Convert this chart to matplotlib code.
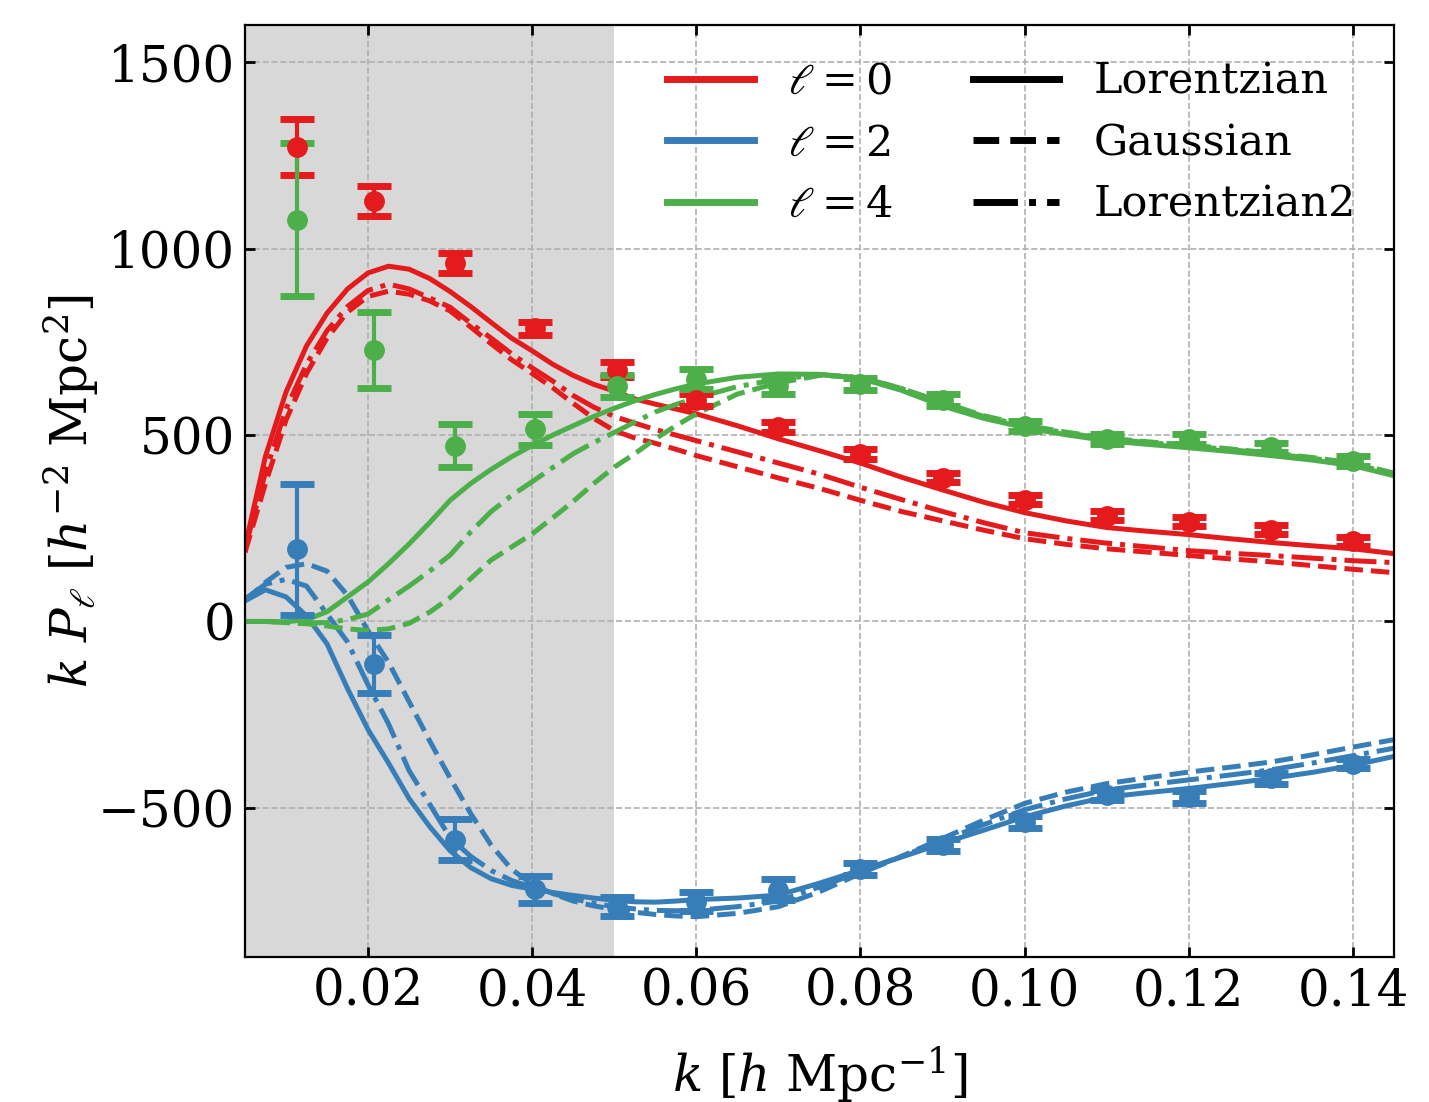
import matplotlib
matplotlib.use("Agg")
import matplotlib.pyplot as plt
from matplotlib.lines import Line2D

plt.rcParams["font.family"] = ["DejaVu Serif"]
plt.rcParams["mathtext.fontset"] = "dejavuserif"
plt.rcParams["font.size"] = 18

RED = "#e41a1c"
BLUE = "#377eb8"
GREEN = "#4daf4a"

# measured multipoles (effective k of each bin)
k_data = [0.0113, 0.0207, 0.0306, 0.0404, 0.0503, 0.060, 0.070, 0.080,
          0.090, 0.100, 0.110, 0.120, 0.130, 0.140]
p0_data = [1272, 1127, 962, 786, 675, 594, 521, 449, 385, 326, 284, 268, 246, 215]
p0_err = [75, 40, 26, 18, 20, 15, 14, 13, 12, 12, 12, 12, 12, 12]
p2_data = [194, -115, -586, -718, -765, -752, -720, -664, -600, -537, -466, -471, -421, -381]
p2_err = [176, 78, 55, 36, 25, 26, 28, 16, 16, 16, 14, 16, 14, 12]
p4_data = [1078, 727, 472, 515, 632, 650, 632, 637, 594, 524, 489, 490, 467, 430]
p4_err = [205, 102, 57, 42, 30, 26, 22, 16, 15, 14, 13, 13, 13, 13]

# model curves
k_model = [0.005, 0.0075, 0.01, 0.0125, 0.015, 0.0175, 0.02, 0.0225, 0.025, 0.0275,
           0.03, 0.0325, 0.035, 0.0375, 0.04, 0.0425, 0.045, 0.0475, 0.05, 0.0525,
           0.055, 0.0575, 0.06, 0.065, 0.07, 0.075, 0.08, 0.085, 0.09, 0.095,
           0.10, 0.105, 0.11, 0.115, 0.12, 0.125, 0.13, 0.135, 0.14, 0.145]

p0_lor = [200, 443, 615, 739, 827, 892, 935, 953, 945, 920,
          885, 845, 802, 760, 726, 690, 660, 636, 618, 597,
          583, 570, 557, 525, 490, 458, 425, 387, 353, 320,
          292, 270, 252, 242, 233, 222, 212, 203, 195, 182]
p0_gau = [185, 370, 540, 665, 760, 830, 872, 886, 878, 860,
          833, 790, 745, 702, 665, 627, 585, 545, 512, 492,
          478, 462, 445, 415, 385, 357, 325, 295, 270, 245,
          222, 207, 195, 186, 177, 168, 160, 150, 140, 131]
p0_lor2 = [195, 400, 570, 690, 780, 845, 888, 905, 892, 868,
           843, 800, 760, 718, 680, 645, 606, 575, 550, 532,
           515, 500, 485, 455, 425, 395, 360, 327, 295, 265,
           238, 223, 210, 200, 190, 183, 177, 170, 163, 158]

p2_lor = [55, 85, 66, 15, -60, -180, -290, -380, -475, -550,
          -615, -660, -690, -708, -718, -727, -735, -742, -748, -752,
          -753, -750, -746, -742, -734, -702, -667, -632, -595, -560,
          -524, -495, -471, -459, -448, -435, -421, -405, -386, -362]
p2_gau = [55, 105, 145, 155, 135, 70, -25, -110, -215, -320,
          -420, -515, -600, -665, -705, -730, -750, -763, -772, -780,
          -786, -790, -792, -783, -765, -725, -676, -630, -582, -533,
          -488, -458, -435, -419, -404, -391, -377, -358, -337, -317]
p2_lor2 = [60, 100, 113, 95, 20, -55, -170, -275, -400, -490,
           -580, -630, -668, -695, -713, -730, -744, -756, -765, -771,
           -775, -776, -775, -765, -750, -712, -672, -630, -588, -545,
           -505, -476, -452, -438, -425, -412, -398, -380, -360, -340]

p4_lor = [0, 0, -1, 5, 26, 66, 106, 155, 208, 265,
          325, 370, 408, 442, 472, 500, 525, 550, 572, 592,
          609, 624, 637, 655, 664, 663, 652, 620, 578, 545,
          520, 501, 485, 475, 466, 456, 445, 433, 418, 391]
p4_gau = [0, 0, -3, -6, -12, -20, -24, -20, -5, 25,
          64, 115, 165, 200, 235, 278, 322, 370, 414, 450,
          490, 525, 557, 610, 640, 660, 655, 625, 588, 552,
          527, 508, 492, 482, 473, 463, 452, 440, 425, 398]
p4_lor2 = [0, 0, -2, -4, -3, 5, 20, 58, 95, 135,
           178, 240, 295, 338, 375, 413, 450, 480, 507, 535,
           562, 582, 600, 630, 650, 662, 655, 625, 586, 550,
           525, 506, 490, 480, 471, 461, 450, 438, 423, 396]

fig = plt.figure(figsize=(7.145, 5.51), dpi=200)
ax = fig.add_axes([0.1714, 0.1316, 0.8041, 0.8457])

ax.axvspan(0.005, 0.05, color="gray", alpha=0.3, lw=0)

curves = [
    (p0_lor, p0_gau, p0_lor2, RED),
    (p2_lor, p2_gau, p2_lor2, BLUE),
    (p4_lor, p4_gau, p4_lor2, GREEN),
]
for lor, gau, lor2, col in curves:
    ax.plot(k_model, lor, color=col, lw=1.8, ls="-")
    ax.plot(k_model, gau, color=col, lw=1.8, ls="--")
    ax.plot(k_model, lor2, color=col, lw=1.8, ls="-.")

for y, err, col in [(p0_data, p0_err, RED), (p2_data, p2_err, BLUE), (p4_data, p4_err, GREEN)]:
    ax.errorbar(k_data, y, yerr=err, fmt="o", color=col, ms=6.5,
                elinewidth=1.5, capsize=6, capthick=2.5)

ax.set_xlim(0.005, 0.145)
ax.set_ylim(-900, 1600)
ax.set_xticks([0.02, 0.04, 0.06, 0.08, 0.10, 0.12, 0.14])
ax.set_xticklabels(["0.02", "0.04", "0.06", "0.08", "0.10", "0.12", "0.14"])
ax.set_yticks([-500, 0, 500, 1000, 1500])
ax.tick_params(direction="in", top=True, right=True, width=1.0)
ax.grid(True, ls="--", color="#b0b0b0", lw=0.6)

ax.set_xlabel(r"$k\ [h\ \mathrm{Mpc}^{-1}]$", labelpad=10)
ax.set_ylabel(r"$k\ P_\ell\ [h^{-2}\ \mathrm{Mpc}^2]$", labelpad=-1)

color_handles = [Line2D([], [], color=c, lw=2.5) for c in (RED, BLUE, GREEN)]
color_labels = [r"$\ell=0$", r"$\ell=2$", r"$\ell=4$"]
leg1 = ax.legend(color_handles, color_labels, loc="upper left",
                 bbox_to_anchor=(0.334, 1.003), frameon=False, fontsize=15.5,
                 labelspacing=0.45, handlelength=2.0, handletextpad=0.8)
ax.add_artist(leg1)

style_handles = [Line2D([], [], color="k", lw=2.5, ls=s) for s in ("-", "--", "-.")]
style_labels = ["Lorentzian", "Gaussian", "Lorentzian2"]
ax.legend(style_handles, style_labels, loc="upper left",
          bbox_to_anchor=(0.6, 1.003), frameon=False, fontsize=15.5,
          labelspacing=0.45, handlelength=2.0, handletextpad=0.8)

fig.savefig("out.png", dpi=200)
